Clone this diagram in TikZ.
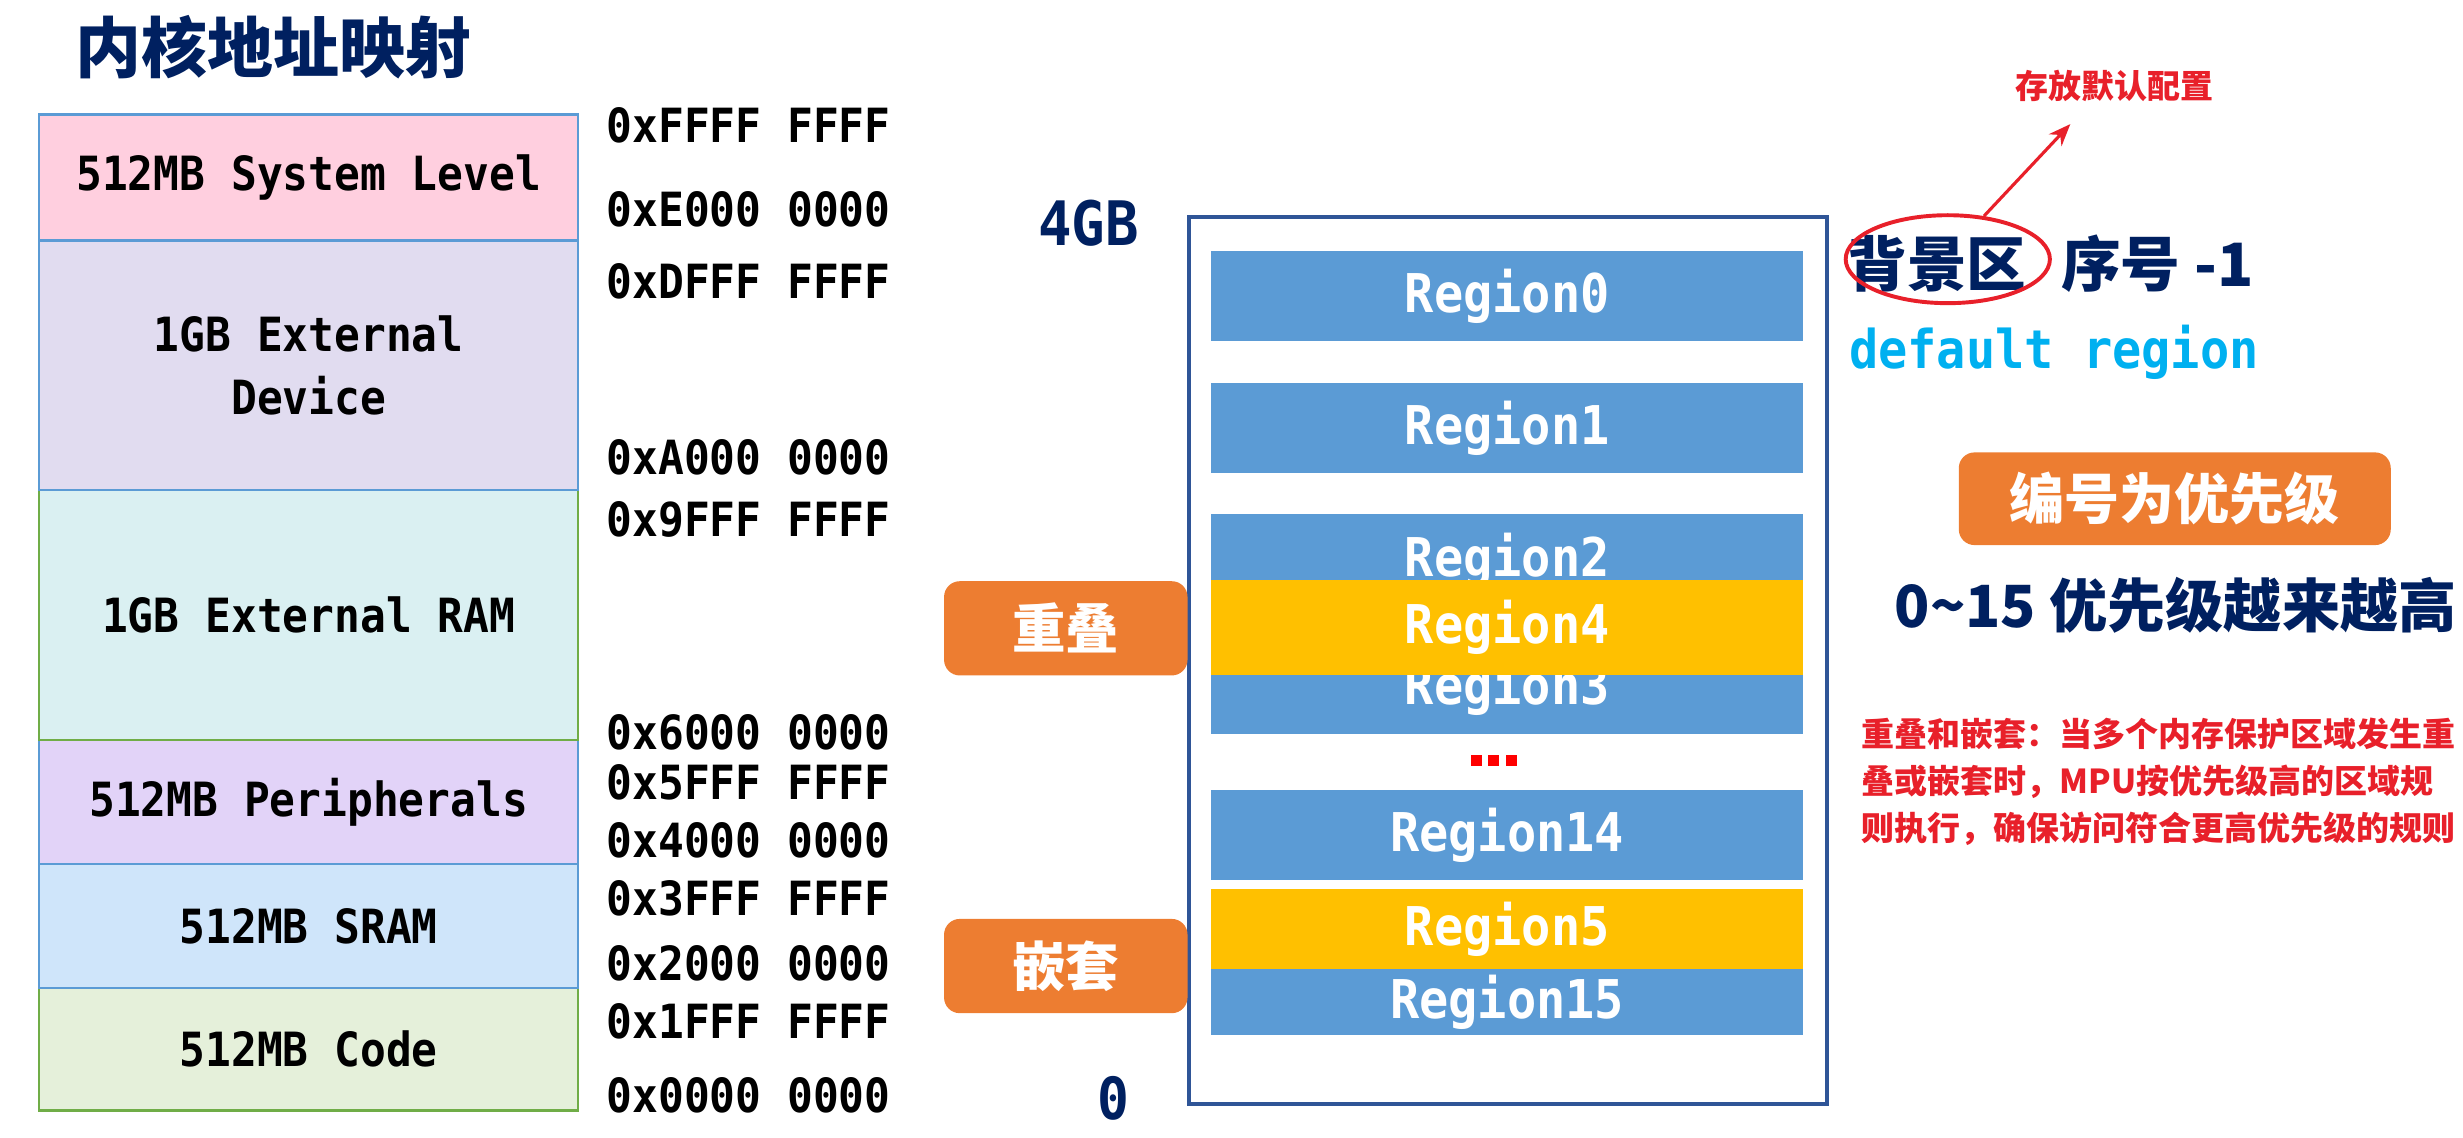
\documentclass[tikz,border=0pt]{standalone}
\usepackage{fontspec}
\setmainfont{Noto Sans CJK SC}
\newfontfamily\cjk{Noto Sans CJK SC}
\newfontfamily\monof{DejaVu Sans Mono}[FakeStretch=0.91]
\usetikzlibrary{shapes.geometric,arrows.meta}
\definecolor{navy}{HTML}{002060}
\definecolor{rowblue}{HTML}{5B9BD5}
\definecolor{rowgreen}{HTML}{70AD47}
\definecolor{cSys}{HTML}{FFCFDF}
\definecolor{cDev}{HTML}{E1DCF0}
\definecolor{cRam}{HTML}{DAF0F2}
\definecolor{cPeri}{HTML}{E2D3F8}
\definecolor{cSram}{HTML}{CFE5FA}
\definecolor{cCode}{HTML}{E5F0DA}
\definecolor{barblue}{HTML}{5B9BD5}
\definecolor{ygold}{HTML}{FFC000}
\definecolor{orng}{HTML}{ED7D31}
\definecolor{cyanT}{HTML}{00B0F0}
\definecolor{alertred}{HTML}{E8202A}
\definecolor{dotred}{HTML}{FF0000}
\definecolor{frameblue}{HTML}{2F5597}
\begin{document}
\begin{tikzpicture}[x=1pt,y=-1pt,
  memrow/.style={draw=rowblue,line width=1.5pt,minimum width=343pt,inner sep=0pt,align=center,font=\monof\bfseries\fontsize{30}{40}\selectfont},
  addr/.style={anchor=west,inner sep=0pt,font=\monof\bfseries\fontsize{30}{36}\selectfont},
  bar/.style={fill=barblue,minimum width=377pt,inner sep=0pt,text=white,font=\monof\bfseries\fontsize{34}{40}\selectfont},
  ybar/.style={bar,fill=ygold},
  tag/.style={fill=orng,rounded corners=10pt,text=white,inner sep=0pt,font=\cjk\bfseries\fontsize{34}{40}\selectfont},
  navytxt/.style={anchor=west,inner sep=0pt,text=navy}
]
\useasboundingbox (0,0) rectangle (1568,724);
\node[navytxt,font=\cjk\bfseries\fontsize{42}{46}\selectfont] (title) at (48,30) {内核地址映射};
% memory map
\node[memrow,fill=cPeri,minimum height=79pt] (peri) at (196.5,510.5) {512MB Peripherals};
\node[memrow,draw=rowgreen,fill=cRam,minimum height=159pt] (ram) at (196.5,391.5) {1GB External RAM};
\node[memrow,fill=cDev,minimum height=159pt] (dev) at (196.5,232.5) {1GB External\\Device};
\node[memrow,fill=cSys,minimum height=80pt] (sys) at (196.5,113) {512MB System Level};
\node[memrow,draw=rowgreen,fill=cCode,minimum height=78pt] (code) at (196.5,668) {512MB Code};
\node[memrow,fill=cSram,minimum height=79pt] (sram) at (196.5,589.5) {512MB SRAM};
% addresses
\node[addr] (a1) at (386,80) {0xFFFF FFFF};
\node[addr] (a2) at (386,133) {0xE000 0000};
\node[addr] (a3) at (386,179) {0xDFFF FFFF};
\node[addr] (a4) at (386,291) {0xA000 0000};
\node[addr] (a5) at (386,331) {0x9FFF FFFF};
\node[addr] (a6) at (386,466) {0x6000 0000};
\node[addr] (a7) at (386,498) {0x5FFF FFFF};
\node[addr] (a8) at (386,535) {0x4000 0000};
\node[addr] (a9) at (386,572) {0x3FFF FFFF};
\node[addr] (a10) at (386,613) {0x2000 0000};
\node[addr] (a11) at (386,650) {0x1FFF FFFF};
\node[addr] (a12) at (386,697) {0x0000 0000};
% MPU regions
\node[text=navy,inner sep=0pt,font=\monof\bfseries\fontsize{39}{44}\selectfont] (fourgb) at (693,142) {4GB};
\node[text=navy,inner sep=0pt,font=\monof\bfseries\fontsize{37}{40}\selectfont] (zero) at (709,699) {0};
\node[draw=frameblue,line width=2.5pt,minimum width=406pt,minimum height=565pt,inner sep=0pt] (frame) at (960,420.5) {};
\node[bar,minimum height=57pt] (r0) at (959.5,188.5) {Region0};
\node[bar,minimum height=57pt] (r1) at (959.5,272.5) {Region1};
\node[bar,minimum height=60pt] (r2) at (959.5,357) {Region2};
\node[bar,minimum height=57pt] (r3) at (959.5,438.5) {Region3};
\node[ybar,minimum height=61pt] (r4) at (959.5,399.5) {Region4};
\node[inner sep=0pt] (dots) at (951,484) {\color{dotred}\rule{7pt}{7pt}\hspace{4pt}\rule{7pt}{7pt}\hspace{4pt}\rule{7pt}{7pt}};
\node[bar,minimum height=57pt] (r14) at (959.5,531.5) {Region14};
\node[ybar,minimum height=51pt] (r5) at (959.5,591.5) {Region5};
\node[bar,minimum height=42pt] (r15) at (959.5,638) {Region15};
\node[tag,minimum width=155pt,minimum height=60pt] (overlap) at (678.5,400) {重叠};
\node[tag,minimum width=155pt,minimum height=60pt] (nest) at (678.5,615) {嵌套};
% right side notes
\node[navytxt,font=\cjk\bfseries\fontsize{38}{44}\selectfont] (bgq) at (1176,168) {背景区};
\node[navytxt,font=\cjk\bfseries\fontsize{38}{44}\selectfont] (seq) at (1312,168) {序号 -1};
\node[ellipse,draw=alertred,line width=2.5pt,minimum width=130pt,minimum height=56pt,inner sep=0pt] (ell) at (1240,165) {};
\node[text=alertred,inner sep=0pt,font=\cjk\bfseries\fontsize{21}{24}\selectfont] (cfg) at (1346,55) {存放默认配置};
\coordinate (arrEnd) at (1318,79);
\draw[alertred,line width=2pt,-{Stealth[length=14pt,width=11pt]}] (ell.50) -- (arrEnd);
\node[anchor=west,inner sep=0pt,text=cyanT,font=\monof\bfseries\fontsize{34}{40}\selectfont] (defr) at (1177,224) {default region};
\node[tag,minimum width=275pt,minimum height=59pt,font=\cjk\bfseries\fontsize{35}{40}\selectfont] (prio) at (1384.5,317.5) {编号为优先级};
\node[navytxt,font=\cjk\bfseries\fontsize{37}{40}\selectfont] (range) at (1206,385) {0\textasciitilde 15 优先级越来越高};
\node[anchor=north west,align=left,inner sep=0pt,text=alertred,font=\cjk\bfseries\fontsize{21}{30}\selectfont] (note) at (1185,457) {重叠和嵌套：当多个内存保护区域发生重\\叠或嵌套时，MPU按优先级高的区域规\\则执行，确保访问符合更高优先级的规则};
\end{tikzpicture}
\end{document}
